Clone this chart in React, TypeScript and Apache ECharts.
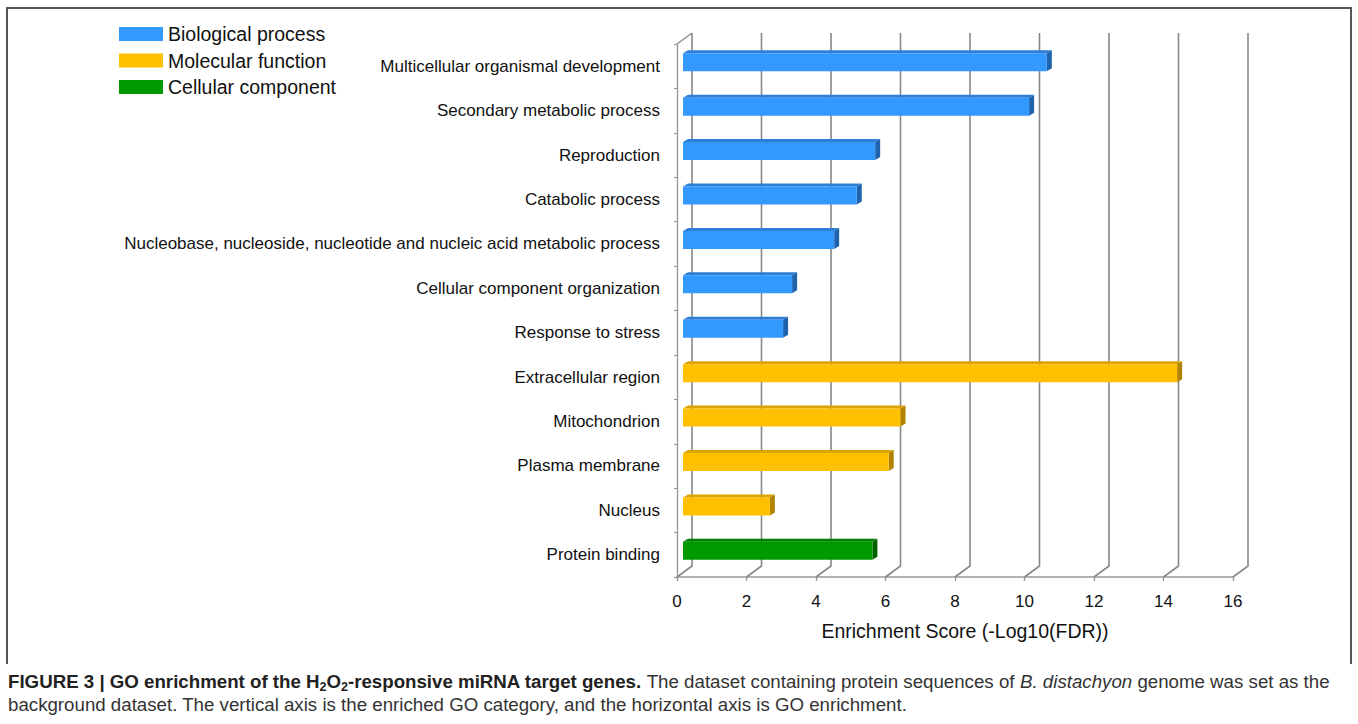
import React, { useEffect, useRef } from "react";
import * as echarts from "echarts";

const categories = [
  "Multicellular organismal development",
  "Secondary metabolic process",
  "Reproduction",
  "Catabolic process",
  "Nucleobase, nucleoside, nucleotide and nucleic acid metabolic process",
  "Cellular component organization",
  "Response to stress",
  "Extracellular region",
  "Mitochondrion",
  "Plasma membrane",
  "Nucleus",
  "Protein binding",
];
const scores = [10.47, 9.96, 5.53, 5.0, 4.35, 3.14, 2.88, 14.22, 6.26, 5.92, 2.5, 5.45];
const groupNames = ["Biological process", "Molecular function", "Cellular component"];
const groupOf = [0, 0, 0, 0, 0, 0, 0, 1, 1, 1, 1, 2];
const xTicks = [0, 2, 4, 6, 8, 10, 12, 14, 16];
const axisName = "Enrichment Score (-Log10(FDR))";

const FONT = "'Liberation Sans', Arial, Helvetica, sans-serif";
const palette = [
  { front: "#3399FF", top: "#2C7ED6", side: "#1F62AE" },
  { front: "#FFC000", top: "#DCA400", side: "#B08400" },
  { front: "#009900", top: "#007E00", side: "#006000" },
];
const DX = 15, DY = -11; // wall depth
const BDX = 5, BDY = -3; // bar depth
const CAP = 18.7;

export default function App() {
  const ref = useRef<HTMLDivElement>(null);
  useEffect(() => {
    if (!ref.current) return;
    const chart = echarts.init(ref.current, undefined, { renderer: "svg" });

    const barSeries = groupNames.map((g, gi) => ({
      type: "custom",
      name: g,
      z: 3,
      itemStyle: { color: palette[gi].front },
      encode: { x: 0, y: 1 },
      data: scores
        .map((v, i) => [v, i, groupOf[i]])
        .filter((d) => d[2] === gi)
        .map((d) => [d[0], d[1]]),
      renderItem: (params: any, api: any) => {
        const v = api.value(0);
        const idx = api.value(1);
        const p0 = api.coord([0, idx]);
        const p1 = api.coord([v, idx]);
        const h = 18;
        const x0 = p0[0] + 6;
        const x1 = p1[0] + 6;
        const yT = p0[1] - 4 - h / 2;
        const yB = yT + h;
        const c = palette[gi];
        return {
          type: "group",
          children: [
            {
              type: "polygon",
              shape: { points: [[x0, yT], [x1, yT], [x1 + BDX, yT + BDY], [x0 + BDX, yT + BDY]] },
              style: { fill: c.top },
            },
            {
              type: "polygon",
              shape: { points: [[x1, yT], [x1 + BDX, yT + BDY], [x1 + BDX, yB + BDY], [x1, yB]] },
              style: { fill: c.side },
            },
            { type: "rect", shape: { x: x0, y: yT, width: x1 - x0, height: h }, style: { fill: c.front } },
          ],
        };
      },
    }));

    const wallSeries = {
      type: "custom",
      name: "wall",
      z: 1,
      silent: true,
      encode: { x: 0, y: 1 },
      data: xTicks.map((t) => [t, 0]),
      renderItem: (params: any, api: any) => {
        const cs = params.coordSys;
        const t = api.value(0);
        const px = api.coord([t, 0])[0];
        const yb = cs.y + cs.height;
        const children: any[] = [
          {
            type: "polyline",
            shape: { points: [[px, yb], [px + DX, yb + DY], [px + DX, cs.y + DY]] },
            style: { stroke: "#888", lineWidth: 1.6, fill: "none" },
          },
        ];
        if (t === 0) {
          children.push({
            type: "polyline",
            shape: { points: [[px, cs.y], [px + DX, cs.y + DY]] },
            style: { stroke: "#888", lineWidth: 1.4, fill: "none" },
          });
        }
        return { type: "group", children };
      },
    };

    const option: any = {
      animation: false,
      backgroundColor: "#ffffff",
      textStyle: { fontFamily: FONT },
      legend: {
        data: groupNames,
        orient: "vertical",
        left: 119,
        top: 24,
        padding: 0,
        itemWidth: 44,
        itemHeight: 14,
        itemGap: 6.5,
        icon: "rect",
        selectedMode: false,
        textStyle: { fontSize: 19.5, color: "#111", fontFamily: FONT },
      },
      grid: { left: 677, top: 44, width: 556, height: 533, containLabel: false },
      xAxis: {
        type: "value",
        min: 0,
        max: 16,
        interval: 2,
        name: axisName,
        nameLocation: "middle",
        nameGap: 44,
        nameTextStyle: { fontSize: 19.5, color: "#111", fontFamily: FONT, padding: [0, 0, 0, 20] },
        axisLine: { show: true, lineStyle: { color: "#999", width: 1.6 } },
        axisTick: { show: true, length: 4, lineStyle: { color: "#999", width: 1.4 } },
        axisLabel: { fontSize: 17, color: "#111", margin: 16, fontFamily: FONT },
        splitLine: { show: false },
      },
      yAxis: {
        type: "category",
        inverse: true,
        data: categories,
        axisLine: { show: true, lineStyle: { color: "#999", width: 1.4 } },
        axisTick: { show: true, length: 3, lineStyle: { color: "#999", width: 1.2 } },
        axisLabel: { fontSize: 17, color: "#111", margin: 17, fontFamily: FONT },
        splitLine: { show: false },
      },
      graphic: [
        {
          type: "polyline",
          shape: { points: [[7, 664], [7, 8], [1351, 8], [1351, 664]] },
          style: { stroke: "#555", lineWidth: 2, fill: "none" },
          silent: true,
        },
        {
          type: "text",
          left: 8,
          top: 672,
          style: {
            text:
              "{b|FIGURE 3 | GO enrichment of the H}{bs|2}{b|O}{bs|2}{b|-responsive miRNA target genes.}{n| The dataset containing protein sequences of }{i|B. distachyon}{n| genome was set as the}\n{n|background dataset. The vertical axis is the enriched GO category, and the horizontal axis is GO enrichment.}",
            fontFamily: FONT,
            fontSize: CAP,
            fill: "#222",
            rich: {
              b: { fontSize: CAP, fontWeight: "bold", lineHeight: 23, fontFamily: FONT, fill: "#222" },
              bs: { fontSize: 12.5, fontWeight: "bold", lineHeight: 15, verticalAlign: "bottom", fontFamily: FONT, fill: "#222" },
              n: { fontSize: CAP, lineHeight: 23, fontFamily: FONT, fill: "#333" },
              i: { fontSize: CAP, fontStyle: "italic", lineHeight: 23, fontFamily: FONT, fill: "#333" },
            },
          },
        },
      ],
      series: [wallSeries, ...barSeries],
    };
    chart.setOption(option);
    return () => chart.dispose();
  }, []);
  return (
    <div
      ref={ref}
      style={{ position: "fixed", left: 0, top: 0, width: 1358, height: 724, background: "#fff" }}
    />
  );
}
